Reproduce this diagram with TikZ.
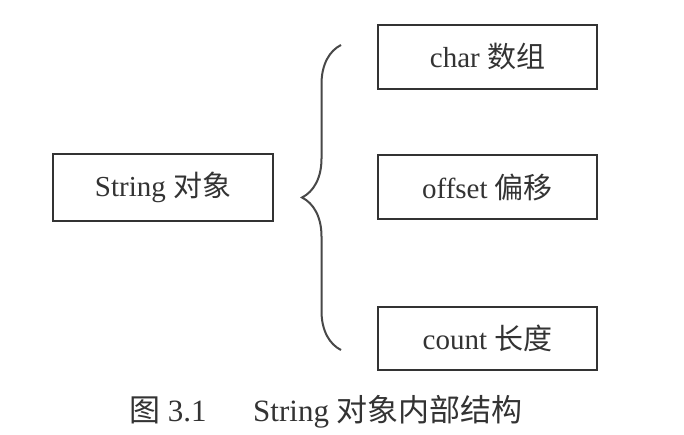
\documentclass[tikz,border=0pt]{standalone}
\usepackage{fontspec}
\setmainfont{Liberation Serif}
\newfontfamily\cjk{Noto Sans CJK SC}
\definecolor{inkDark}{HTML}{333333}
\definecolor{inkBrace}{HTML}{484848}
\usetikzlibrary{positioning, decorations.pathreplacing}

\begin{document}
\begin{tikzpicture}[
    x=1pt, y=-1pt,
    field/.style={rectangle, draw=inkDark, line width=2.4pt, minimum width=219pt,
                  minimum height=64pt, inner sep=0pt, font=\fontsize{29}{34}\selectfont, text=inkDark},
    bracket/.style={decorate, decoration={brace, amplitude=39pt}, line width=2pt, inkBrace},
    caption/.style={font=\fontsize{31}{36}\selectfont, text=inkDark}
  ]
    \useasboundingbox[fill=white] (0,0) rectangle (684,434);
    \node[field, minimum width=220pt, minimum height=67pt] (string) at (163,187.5) {String {\cjk 对象}};
    \node[field] (chararr) at (487.5,57) {char {\cjk 数组}};
    \node[field] (offset) at (487.5,187) {offset {\cjk 偏移}};
    \node[field, minimum height=63pt] (count) at (487.5,338.5) {count {\cjk 长度}};
    % brace grouping the three fields
    \coordinate (braceBot) at (341,350);
    \coordinate (braceTop) at (341,45);
    \draw[bracket] (braceBot) -- (braceTop);
    \node[caption] (title) at (326,412) {{\cjk 图} 3.1\hspace{1.5em}String {\cjk 对象内部结构}};
  \end{tikzpicture}
\end{document}
